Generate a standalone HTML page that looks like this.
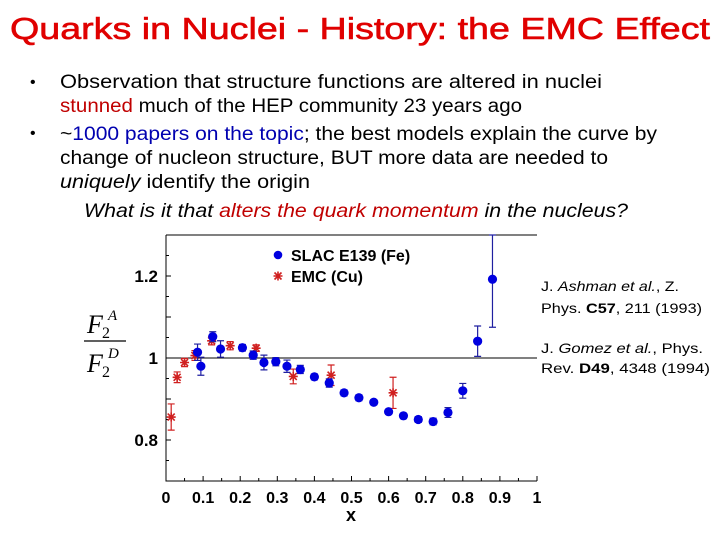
<!DOCTYPE html>
<html><head><meta charset="utf-8"><style>
html,body{margin:0;padding:0;background:#fff;width:720px;height:540px;overflow:hidden}
svg{display:block}
.t{font-family:"Liberation Sans",sans-serif}
</style></head><body>
<svg id="s" width="720" height="540" viewBox="0 0 720 540" xmlns="http://www.w3.org/2000/svg">
<text class="t" x="10" y="39" font-size="31" fill="#e00000" stroke="#e00000" stroke-width="0.6" textLength="700" lengthAdjust="spacingAndGlyphs">Quarks in Nuclei - History: the EMC Effect</text>
<g class="t" font-size="19" fill="#000">
<text x="30" y="87" font-size="16">•</text>
<text x="60" y="88" textLength="542" lengthAdjust="spacingAndGlyphs">Observation that structure functions are altered in nuclei</text>
<text x="60" y="112" textLength="462" lengthAdjust="spacingAndGlyphs"><tspan fill="#c00000">stunned</tspan> much of the HEP community 23 years ago</text>
<text x="30" y="138" font-size="16">•</text>
<text x="60" y="140" textLength="597" lengthAdjust="spacingAndGlyphs">~<tspan fill="#0000b0">1000 papers on the topic</tspan>; the best models explain the curve by</text>
<text x="60" y="164" textLength="548" lengthAdjust="spacingAndGlyphs">change of nucleon structure, BUT more data are needed to</text>
<text x="60" y="188" textLength="250" lengthAdjust="spacingAndGlyphs"><tspan font-style="italic">uniquely</tspan> identify the origin</text>
<text x="84" y="217" font-style="italic" textLength="544" lengthAdjust="spacingAndGlyphs">What is it that <tspan fill="#c00000">alters the quark momentum</tspan> in the nucleus?</text>
</g>
<g class="t" font-size="14" fill="#000">
<text x="541" y="291" textLength="138" lengthAdjust="spacingAndGlyphs">J. <tspan font-style="italic">Ashman et al.</tspan>, Z.</text>
<text x="541" y="313" textLength="161" lengthAdjust="spacingAndGlyphs">Phys. <tspan font-weight="bold">C57</tspan>, 211 (1993)</text>
<text x="541" y="353" textLength="162" lengthAdjust="spacingAndGlyphs">J. <tspan font-style="italic">Gomez et al.</tspan>, Phys.</text>
<text x="541" y="373" textLength="169" lengthAdjust="spacingAndGlyphs">Rev. <tspan font-weight="bold">D49</tspan>, 4348 (1994)</text>
</g>
<g id="chart"></g>
</svg>
<script>
const slacX=[0.085,0.094,0.126,0.147,0.206,0.235,0.264,0.296,0.326,0.362,0.400,0.440,0.480,0.520,0.560,0.600,0.640,0.680,0.720,0.760,0.800,0.840,0.880];
const slacY=[1.014,0.980,1.052,1.022,1.025,1.007,0.989,0.991,0.980,0.972,0.954,0.939,0.915,0.903,0.892,0.869,0.859,0.850,0.845,0.867,0.920,1.041,1.192];
const slacErr=[0.02,0.022,0.012,0.02,0.008,0.01,0.018,0.01,0.015,0.01,0.007,0.01,0.007,0.007,0.006,0.006,0.006,0.007,0.008,0.012,0.018,0.037,0.117];
const emcX=[0.014,0.030,0.050,0.078,0.123,0.173,0.243,0.343,0.445,0.612];
const emcY=[0.856,0.953,0.989,1.006,1.042,1.030,1.024,0.955,0.958,0.915];
const emcErr=[0.032,0.013,0.01,0.012,0.01,0.01,0.008,0.018,0.025,0.038];
const xTicks=["0","0.1","0.2","0.3","0.4","0.5","0.6","0.7","0.8","0.9","1"];
const yTicks=["0.8","1","1.2"];
const L=166,R=537,T=235,B=481,Y0=0.7,Y1=1.3;
const sx=v=>L+v*(R-L), sy=v=>B-(v-Y0)/(Y1-Y0)*(B-T);
const NS="http://www.w3.org/2000/svg", g=document.getElementById('chart');
function mk(tag,a,parent){const e=document.createElementNS(NS,tag);for(const k in a)e.setAttribute(k,a[k]);(parent||g).appendChild(e);return e;}
let e;
e=mk('path',{d:`M${L} ${T}H${R}M${L} ${T}V${B}H${R}`,stroke:'#000',fill:'none','stroke-width':1});


e=mk('line',{x1:L,x2:R,y1:sy(1),y2:sy(1),stroke:'#000','stroke-width':1});


for(let i=0;i<=20;i++){const x=sx(i/20);mk('line',{x1:x,x2:x,y1:B,y2:B-(i%2?3:5),stroke:'#000'});}
for(let i=0;i<=12;i++){const y=sy(0.7+i*0.05);mk('line',{x1:L,x2:L+(i%2?3:5),y1:y,y2:y,stroke:'#000'});}
xTicks.forEach(t=>{e=mk('text',{x:sx(+t),y:503,'text-anchor':'middle','font-size':16,'font-weight':'bold','font-family':'Liberation Sans,sans-serif'});e.textContent=t;

});
yTicks.forEach(t=>{e=mk('text',{x:158,y:sy(+t)+6,'text-anchor':'end','font-size':17,'font-weight':'bold','font-family':'Liberation Sans,sans-serif'});e.textContent=t;

});
e=mk('text',{x:351,y:521,'text-anchor':'middle','font-size':18,'font-weight':'bold','font-family':'Liberation Sans,sans-serif'});e.textContent='x';


const yt=mk('g',{'font-family':'Liberation Serif,serif','font-style':'italic'});


mk('text',{x:87,y:333,'font-size':26},yt).textContent='F';
mk('text',{x:102,y:338,'font-size':16,'font-style':'normal'},yt).textContent='2';
mk('text',{x:108,y:320,'font-size':15},yt).textContent='A';
mk('line',{x1:84,x2:126,y1:341,y2:341,stroke:'#000','stroke-width':1.3},yt);
mk('text',{x:87,y:372,'font-size':26},yt).textContent='F';
mk('text',{x:102,y:377,'font-size':16,'font-style':'normal'},yt).textContent='2';
mk('text',{x:108,y:358,'font-size':15},yt).textContent='D';
function star(cx,cy,c,p){mk('path',{d:`M${cx-4.5} ${cy}H${cx+4.5}M${cx} ${cy-4.5}V${cy+4.5}M${cx-3.5} ${cy-3.5}L${cx+3.5} ${cy+3.5}M${cx-3.5} ${cy+3.5}L${cx+3.5} ${cy-3.5}`,stroke:c,'stroke-width':1.6},p);}
function ebar(x,y,err,c,p){const yt=Math.max(sy(y+err),T),yb=sy(y-err);mk('path',{d:`M${x} ${yt}V${yb}M${x-3.5} ${yt}H${x+3.5}M${x-3.5} ${yb}H${x+3.5}`,stroke:c,'stroke-width':1.2},p);}
emcX.forEach((v,i)=>{const p=mk('g',{});


ebar(sx(v),emcY[i],emcErr[i],'#d02020',p);star(sx(v),sy(emcY[i]),'#d02020',p);});
slacX.forEach((v,i)=>{const p=mk('g',{});


ebar(sx(v),slacY[i],slacErr[i],'#2020a0',p);mk('circle',{cx:sx(v),cy:sy(slacY[i]),r:4.6,fill:'#0000e0'},p);});
const lg=mk('g',{'font-family':'Liberation Sans,sans-serif','font-size':16,'font-weight':'bold'});


mk('circle',{cx:278,cy:255,r:4.3,fill:'#0000e0'},lg);
mk('text',{x:291,y:261},lg).textContent='SLAC E139 (Fe)';
star(278,276,'#d02020',lg);
mk('text',{x:291,y:282},lg).textContent='EMC (Cu)';
</script>
</body></html>
